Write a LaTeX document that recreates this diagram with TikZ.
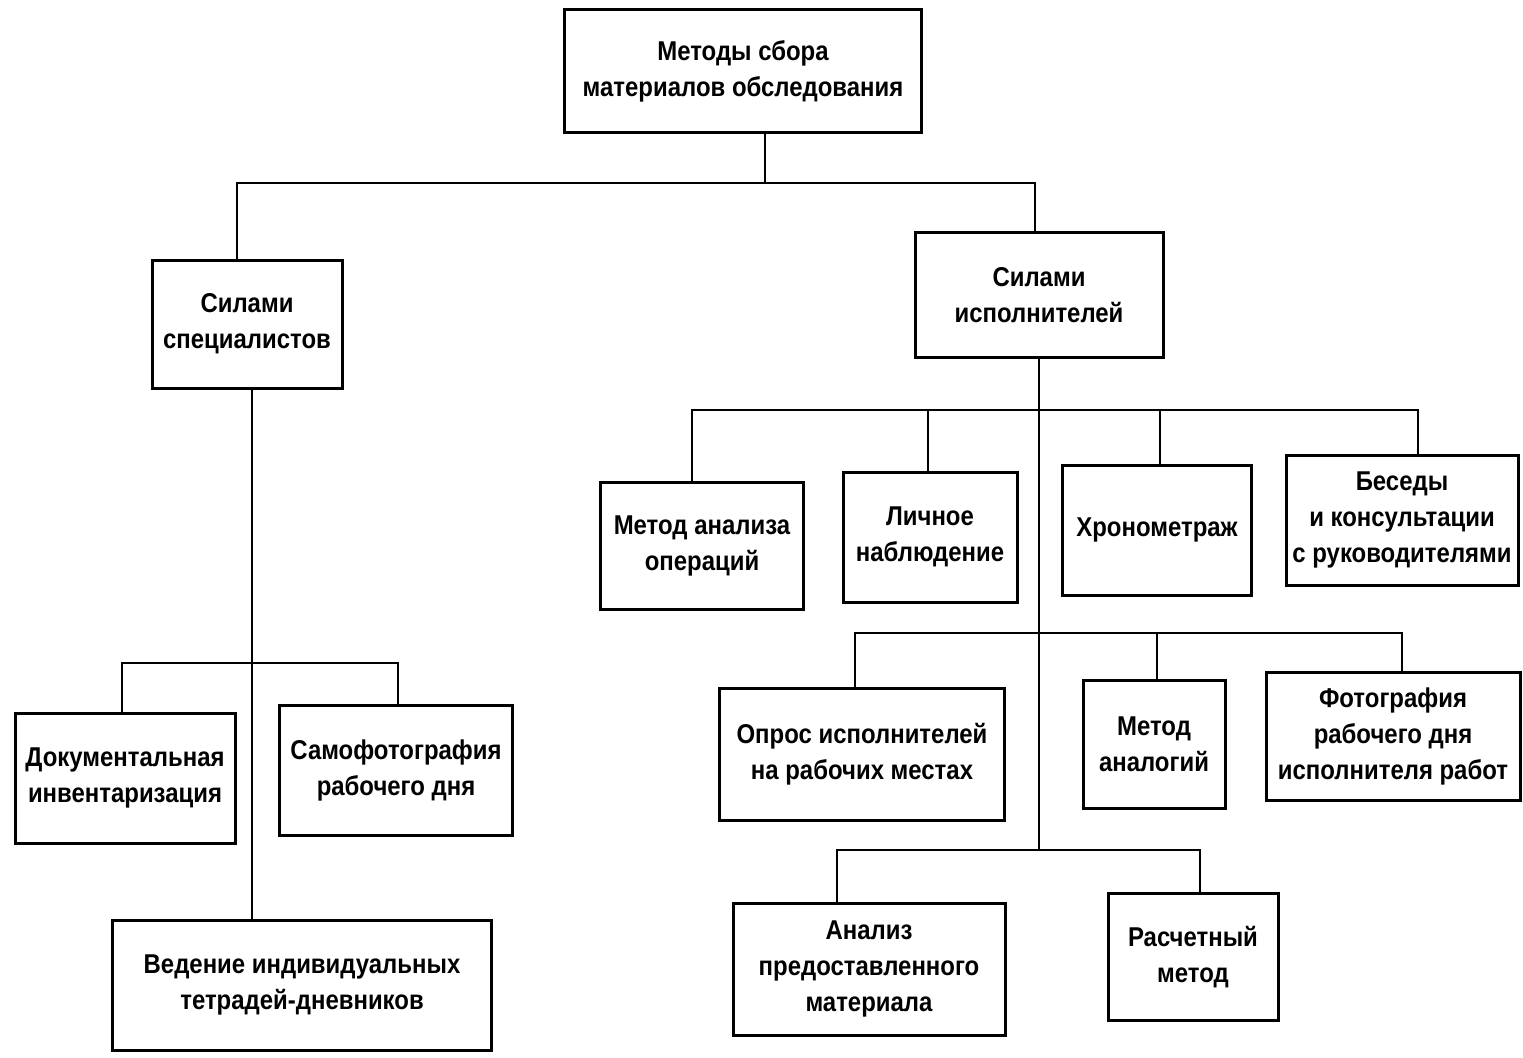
\documentclass[tikz,border=0pt]{standalone}
\usepackage{fontspec}
\setmainfont{Liberation Sans}[FakeStretch=0.88]
\begin{document}
\begin{tikzpicture}[x=0.5pt,y=-0.5pt,
  box/.style={draw, line width=1.5pt, align=center, inner sep=0pt,
    font=\bfseries\fontsize{13.6}{18}\selectfont},
  conn/.style={line width=1.4pt}]
\useasboundingbox[fill=white] (0,0) rectangle (1523,1057);
% boxes
\node[box, minimum width=178.5pt, minimum height=61.5pt] (T) at (743,71) {Методы сбора\\материалов обследования};
\node[box, minimum width=95pt, minimum height=64pt] (L) at (247,324) {Силами\\специалистов};
\node[box, minimum width=124pt, minimum height=62.5pt] (R) at (1039,295) {Силами\\исполнителей};
\node[box, minimum width=110pt, minimum height=65pt] (D) at (125,778) {Документальная\\инвентаризация};
\node[box, minimum width=116.5pt, minimum height=65pt] (S) at (396,770) {Самофотография\\рабочего дня};
\node[box, minimum width=189.5pt, minimum height=65pt] (V) at (302,985) {Ведение индивидуальных\\тетрадей-дневников};
\node[box, minimum width=101.5pt, minimum height=63.5pt] (M1) at (702,546) {Метод анализа\\операций};
\node[box, minimum width=87pt, minimum height=65pt] (M2) at (930,537) {Личное\\наблюдение};
\node[box, minimum width=94.5pt, minimum height=65pt] (M3) at (1157,530) {Хронометраж};
\node[box, minimum width=116pt, minimum height=65pt] (M4) at (1402,520) {Беседы\\и консультации\\с руководителями};
\node[box, minimum width=142.5pt, minimum height=66pt] (O) at (862,754) {Опрос исполнителей\\на рабочих местах};
\node[box, minimum width=71pt, minimum height=64pt] (A) at (1154,744) {Метод\\аналогий};
\node[box, minimum width=127pt, minimum height=64pt] (F) at (1393,736) {Фотография\\рабочего дня\\исполнителя работ};
\node[box, minimum width=136pt, minimum height=66pt] (An) at (869,969) {Анализ\\предоставленного\\материала};
\node[box, minimum width=85pt, minimum height=63.5pt] (Ra) at (1193,957) {Расчетный\\метод};
% junction coordinates
\coordinate (j0) at (765,183);
\coordinate (b1l) at (237,183);
\coordinate (b1r) at (1035,183);
\coordinate (lv) at (252,663);
\coordinate (b2l) at (122,663);
\coordinate (b2r) at (398,663);
\coordinate (rv) at (1039,410);
\coordinate (b3a) at (692,410);
\coordinate (b3b) at (928,410);
\coordinate (b3c) at (1160,410);
\coordinate (b3d) at (1418,410);
\coordinate (rv2) at (1039,633);
\coordinate (b4a) at (855,633);
\coordinate (b4b) at (1157,633);
\coordinate (b4c) at (1402,633);
\coordinate (rv3) at (1039,850);
\coordinate (b5a) at (837,850);
\coordinate (b5b) at (1200,850);
% connectors
\draw[conn] (T.south -| j0) -- (j0);
\draw[conn] (b1l |- L.north) -- (b1l) -- (b1r) -- (b1r |- R.north);
\draw[conn] (L.south -| lv) -- (V.north -| lv);
\draw[conn] (b2l |- D.north) -- (b2l) -- (b2r) -- (b2r |- S.north);
\draw[conn] (R.south) -- (rv3);
\draw[conn] (b3a |- M1.north) -- (b3a) -- (b3d) -- (b3d |- M4.north);
\draw[conn] (b3b) -- (b3b |- M2.north);
\draw[conn] (b3c) -- (b3c |- M3.north);
\draw[conn] (b4a |- O.north) -- (b4a) -- (b4c) -- (b4c |- F.north);
\draw[conn] (b4b) -- (b4b |- A.north);
\draw[conn] (b5a |- An.north) -- (b5a) -- (b5b) -- (b5b |- Ra.north);
\end{tikzpicture}
\end{document}
